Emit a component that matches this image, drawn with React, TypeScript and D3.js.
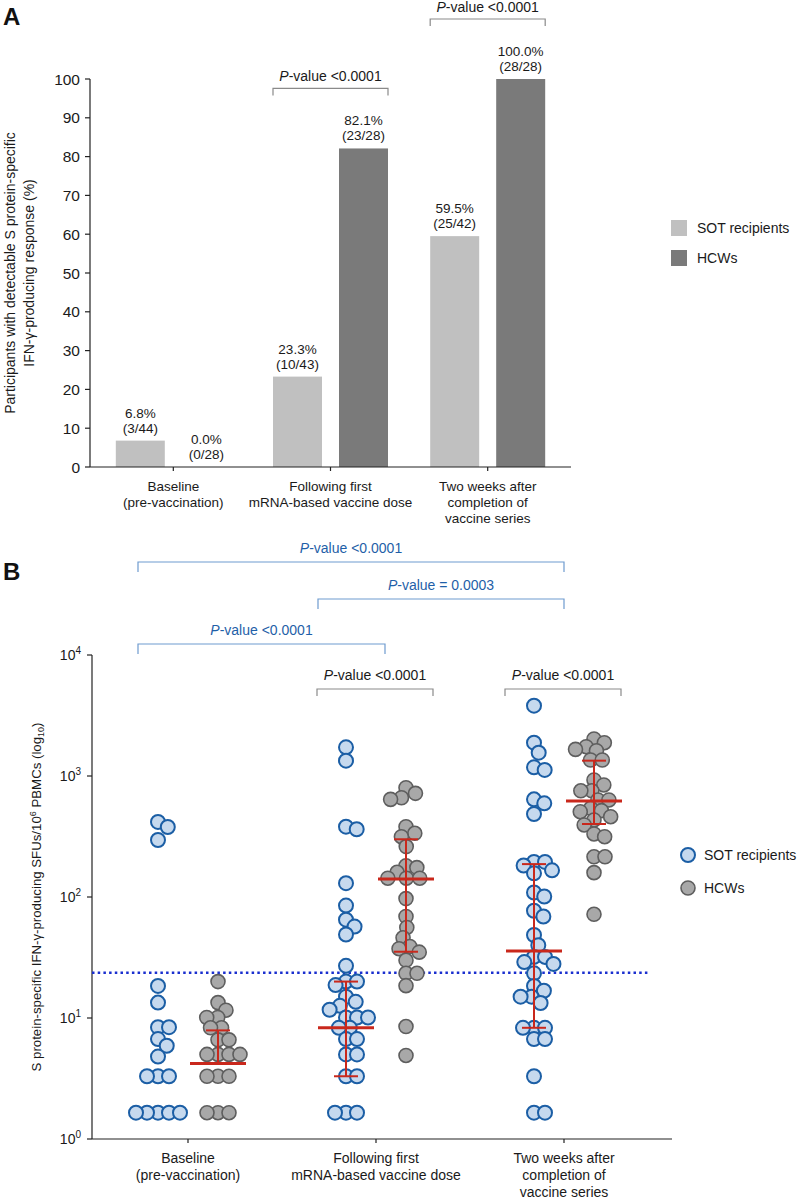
import React from "react";
import * as d3 from "d3";

// ---------- Panel A data ----------
const categories = ["Baseline", "First dose", "Completed"];
const categoryLines = [
  ["Baseline", "(pre-vaccination)"],
  ["Following first", "mRNA-based vaccine dose"],
  ["Two weeks after", "completion of", "vaccine series"],
];
const groups = ["SOT recipients", "HCWs"];
const pctSOT = [6.8, 23.3, 59.5];
const pctHCW = [0.0, 82.1, 100.0];
const fracSOT = ["(3/44)", "(10/43)", "(25/42)"];
const fracHCW = ["(0/28)", "(23/28)", "(28/28)"];
const yTicksA = [0, 10, 20, 30, 40, 50, 60, 70, 80, 90, 100];
const pLabelsA = ["", "<0.0001", "<0.0001"];

// ---------- Panel B data ----------
const sotBaseline = [417, 379, 296, 18.4, 13.4, 8.4, 8.4, 6.7, 5.9, 4.8, 3.3, 3.3, 3.3, 1.65, 1.65, 1.65, 1.65, 1.65];
const hcwBaseline = [20, 13.4, 11.6, 10.1, 10.1, 8.3, 8.3, 6.6, 6.6, 5, 5, 5, 5, 3.3, 3.3, 3.3, 1.65, 1.65, 1.65];
const sotDose1 = [1727, 1339, 381, 363, 130, 85, 65, 57, 49, 27, 20, 20, 18.7, 15, 13.6, 12.6, 11.7, 10.1, 10.1, 10.1, 8.3, 8.3, 6.7, 6.7, 5, 5, 3.3, 3.3, 1.65, 1.65, 1.65];
const hcwDose1 = [800, 719, 661, 641, 381, 336, 315, 261, 181, 175, 160, 143, 143, 143, 97, 69, 56, 46, 39, 37.4, 35, 30, 23.4, 23.4, 18.5, 8.5, 4.9];
const sotComplete = [3810, 1884, 1559, 1180, 1122, 641, 595, 485, 195, 195, 182, 166, 157, 109, 101, 77, 69, 48.5, 40, 32, 32, 29, 28, 23.4, 18.4, 16.8, 15, 15, 13.3, 8.3, 8.3, 8.3, 6.7, 6.7, 3.3, 1.65, 1.65];
const hcwComplete = [2023, 1884, 1746, 1660, 1619, 1356, 1356, 927, 843, 755, 755, 634, 634, 541, 517, 507, 461, 433, 394, 332, 315, 215, 215, 159, 72];
const medianSOT = [null, 8.3, 35.8];
const q1SOT = [null, 3.3, 8.3];
const q3SOT = [null, 20, 187];
const medianHCW = [4.2, 141, 621];
const q1HCW = [4.2, 35.3, 401];
const q3HCW = [7.9, 300, 1339];
const threshold = 23.7;
const yTicksB = [1, 10, 100, 1000, 10000];

const FONT = "Arial, 'Liberation Sans', Helvetica, sans-serif";
const SOT_FILL = "#c6d9ee";
const SOT_STROKE = "#1b5ea5";
const HCW_FILL = "#a8a8a8";
const HCW_STROKE = "#5e5e5e";
const RED = "#c9281c";
const BLUE_TXT = "#1f5fa8";
const BLUE_LINE = "#6e9bcf";

type Pt = { v: number; x: number; y: number };
function beeswarm(values: number[], y: (v: number) => number, d: number): Pt[] {
  const pts: Pt[] = values.map((v) => ({ v, x: 0, y: y(v) })).sort((a, b) => a.y - b.y);
  const placed: Pt[] = [];
  for (const p of pts) {
    const cands = [0];
    for (const q of placed) {
      const dy = Math.abs(q.y - p.y);
      if (dy < d) {
        const dx = Math.sqrt(d * d - dy * dy);
        cands.push(q.x + dx, q.x - dx);
      }
    }
    cands.sort((a, b) => Math.abs(a) - Math.abs(b));
    for (const c of cands) {
      if (placed.every((q) => (q.x - c) ** 2 + (q.y - p.y) ** 2 >= d * d - 0.01)) {
        p.x = c;
        break;
      }
    }
    placed.push(p);
  }
  return placed;
}

function PValue({ x, y, text, color }: { x: number; y: number; text: string; color: string }) {
  return (
    <text x={x} y={y} textAnchor="middle" fontSize={14} fill={color}>
      <tspan fontStyle="italic">P</tspan>
      {"-value " + text}
    </text>
  );
}

export default function App() {
  // ---------- Panel A scales ----------
  const xA = d3.scalePoint<string>().domain(categories).range([90, 571]).padding(0.53);
  const xA1 = d3.scaleBand<string>().domain(groups).range([-57.5, 57.5]).paddingInner(17 / 66);
  const yA = d3.scaleLinear().domain([0, 100]).range([467, 79]);
  const bw = xA1.bandwidth();

  // ---------- Panel B scales ----------
  const xB = d3.scalePoint<string>().domain(categories).range([188, 564]);
  const xB1 = d3.scalePoint<string>().domain(groups).range([-30, 30]);
  const yB = d3.scaleLog().domain([1, 10000]).range([1139, 655]);

  const seriesB = [
    { cat: 0, g: 0, vals: sotBaseline },
    { cat: 0, g: 1, vals: hcwBaseline },
    { cat: 1, g: 0, vals: sotDose1 },
    { cat: 1, g: 1, vals: hcwDose1 },
    { cat: 2, g: 0, vals: sotComplete },
    { cat: 2, g: 1, vals: hcwComplete },
  ];

  const catY0 = yA(0);

  return (
    <svg
      width={800}
      height={1201}
      style={{ position: "absolute", left: 0, top: 0, background: "#fff" }}
      fontFamily={FONT}
    >
      <rect width={800} height={1201} fill="#fff" />
      {/* ================= Panel A ================= */}
      <text x={3} y={25} fontSize={24} fontWeight="bold" fill="#111">A</text>

      {/* y title */}
      <text transform={`translate(15,273) rotate(-90)`} textAnchor="middle" fontSize={14} fill="#1a1a1a">
        Participants with detectable S protein-specific
      </text>
      <text transform={`translate(34,273) rotate(-90)`} textAnchor="middle" fontSize={14} fill="#1a1a1a">
        IFN-γ-producing response (%)
      </text>

      {/* y axis */}
      <line x1={90} x2={90} y1={yA(100)} y2={yA(0)} stroke="#222" strokeWidth={1.2} />
      {yTicksA.map((t) => (
        <g key={t}>
          <line x1={85} x2={90} y1={yA(t)} y2={yA(t)} stroke="#222" strokeWidth={1.2} />
          <text x={80} y={yA(t) + 5.5} textAnchor="end" fontSize={15.5} fill="#1a1a1a">{t}</text>
        </g>
      ))}

      {/* bars */}
      {categories.map((c, i) => (
        <g key={c}>
          {groups.map((g, j) => {
            const v = j === 0 ? pctSOT[i] : pctHCW[i];
            const x = (xA(c) as number) + (xA1(g) as number);
            return (
              <g key={g}>
                <rect x={x} y={yA(v)} width={bw} height={yA(0) - yA(v)} fill={j === 0 ? "#c0c0c0" : "#7a7a7a"} />
                <text x={x + bw / 2} y={yA(v) - 23} textAnchor="middle" fontSize={13.5} fill="#1a1a1a">
                  {v.toFixed(1) + "%"}
                </text>
                <text x={x + bw / 2} y={yA(v) - 8} textAnchor="middle" fontSize={13.5} fill="#1a1a1a">
                  {j === 0 ? fracSOT[i] : fracHCW[i]}
                </text>
              </g>
            );
          })}
        </g>
      ))}

      {/* x axis */}
      <line x1={90} x2={571} y1={catY0} y2={catY0} stroke="#222" strokeWidth={1.2} />
      {categories.map((c, i) => (
        <g key={c}>
          <line x1={xA(c) as number} x2={xA(c) as number} y1={catY0} y2={catY0 + 4} stroke="#222" strokeWidth={1.2} />
          {categoryLines[i].map((l, k) => (
            <text key={k} x={xA(c) as number} y={catY0 + 24 + k * 16} textAnchor="middle" fontSize={13.5} fill="#1a1a1a">
              {l}
            </text>
          ))}
        </g>
      ))}

      {/* brackets A */}
      {categories.map((c, i) => {
        if (!pLabelsA[i]) return null;
        const x0 = (xA(c) as number) + (xA1(groups[0]) as number);
        const x1 = (xA(c) as number) + (xA1(groups[1]) as number) + bw;
        const top = yA(Math.max(pctSOT[i], pctHCW[i])) - 60;
        return (
          <g key={c}>
            <path d={`M${x0},${top + 7}V${top}H${x1}V${top + 7}`} fill="none" stroke="#8a8a8a" strokeWidth={1.2} />
            <PValue x={(x0 + x1) / 2} y={top - 7.5} text={pLabelsA[i]} color="#1a1a1a" />
          </g>
        );
      })}

      {/* legend A */}
      {groups.map((g, j) => (
        <g key={g} transform={`translate(671,${220 + j * 30})`}>
          <rect width={16} height={16} fill={j === 0 ? "#c0c0c0" : "#7a7a7a"} />
          <text x={26} y={13} fontSize={14} fill="#1a1a1a">{g}</text>
        </g>
      ))}

      {/* ================= Panel B ================= */}
      <text x={3} y={580} fontSize={24} fontWeight="bold" fill="#111">B</text>

      {/* y title */}
      <text
        transform={`translate(41,${(yB(1) + yB(10000)) / 2}) rotate(-90)`}
        textAnchor="middle"
        fontSize={12.5}
        fill="#1a1a1a"
        textLength={349}
        lengthAdjust="spacingAndGlyphs"
      >
        S protein-specific IFN-γ-producing SFUs/10
        <tspan dy={-5} fontSize={8.5}>6</tspan>
        <tspan dy={5}> PBMCs (log</tspan>
        <tspan dy={3} fontSize={8.5}>10</tspan>
        <tspan dy={-3}>)</tspan>
      </text>

      {/* y axis */}
      <line x1={92} x2={92} y1={yB(10000)} y2={yB(1)} stroke="#222" strokeWidth={1.2} />
      {yTicksB.map((t) => (
        <g key={t}>
          <line x1={87} x2={92} y1={yB(t)} y2={yB(t)} stroke="#222" strokeWidth={1.2} />
          <text x={81} y={yB(t) + 5} textAnchor="end" fontSize={14} fill="#1a1a1a">
            10<tspan dy={-6} fontSize={10}>{Math.round(Math.log10(t))}</tspan>
          </text>
        </g>
      ))}

      {/* threshold */}
      <line x1={92} x2={648} y1={yB(threshold)} y2={yB(threshold)} stroke="#1a2fcf" strokeWidth={2.5} strokeDasharray="2.5 3.2" />

      {/* points */}
      {seriesB.map((s, idx) => {
        const cx = (xB(categories[s.cat]) as number) + (xB1(groups[s.g]) as number);
        const pts = beeswarm(s.vals, (v) => yB(v), 11);
        return (
          <g key={idx}>
            {pts.map((p, k) => (
              <circle
                key={k}
                cx={cx + p.x}
                cy={p.y}
                r={7}
                fill={s.g === 0 ? SOT_FILL : HCW_FILL}
                stroke={s.g === 0 ? SOT_STROKE : HCW_STROKE}
                strokeWidth={s.g === 0 ? 2 : 1.6}
              />
            ))}
          </g>
        );
      })}

      {/* median + IQR */}
      {categories.map((c, i) =>
        groups.map((g, j) => {
          const med = j === 0 ? medianSOT[i] : medianHCW[i];
          const lo = j === 0 ? q1SOT[i] : q1HCW[i];
          const hi = j === 0 ? q3SOT[i] : q3HCW[i];
          if (med == null || lo == null || hi == null) return null;
          const cx = (xB(c) as number) + (xB1(g) as number);
          return (
            <g key={c + g} stroke={RED}>
              <line x1={cx} x2={cx} y1={yB(hi)} y2={yB(lo)} strokeWidth={2} />
              <line x1={cx - 12} x2={cx + 12} y1={yB(hi)} y2={yB(hi)} strokeWidth={2} />
              {lo !== med && <line x1={cx - 12} x2={cx + 12} y1={yB(lo)} y2={yB(lo)} strokeWidth={2} />}
              <line x1={cx - 28} x2={cx + 28} y1={yB(med)} y2={yB(med)} strokeWidth={3} />
            </g>
          );
        })
      )}

      {/* x axis */}
      <line x1={92} x2={672} y1={yB(1)} y2={yB(1)} stroke="#222" strokeWidth={1.2} />
      {categories.map((c, i) => (
        <g key={c}>
          <line x1={xB(c) as number} x2={xB(c) as number} y1={yB(1)} y2={yB(1) + 4} stroke="#222" strokeWidth={1.2} />
          {categoryLines[i].map((l, k) => (
            <text key={k} x={xB(c) as number} y={yB(1) + 24 + k * 17} textAnchor="middle" fontSize={14} fill="#1a1a1a">
              {l}
            </text>
          ))}
        </g>
      ))}

      {/* group brackets B */}
      {[1, 2].map((i) => {
        const cx = xB(categories[i]) as number;
        const x0 = cx - 59;
        const x1 = cx + 57;
        const top = yB(10000) + 34;
        return (
          <g key={i}>
            <path d={`M${x0},${top + 7}V${top}H${x1}V${top + 7}`} fill="none" stroke="#8a8a8a" strokeWidth={1.2} />
            <PValue x={(x0 + x1) / 2} y={top - 9} text="<0.0001" color="#1a1a1a" />
          </g>
        );
      })}

      {/* comparison brackets B (SOT across time) */}
      {[
        { a: 0, b: 2, t: "<0.0001", lvl: 0 },
        { a: 1, b: 2, t: "= 0.0003", lvl: 1 },
        { a: 0, b: 1, t: "<0.0001", lvl: 2 },
      ].map((br, k) => {
        const x0 = (xB(categories[br.a]) as number) - (br.a === 0 ? 50 : 58);
        const x1 = (xB(categories[br.b]) as number) + (br.b === 2 ? 0 : 9);
        const top = yB(10000) - 93 + [0, 37, 82][br.lvl];
        return (
          <g key={k}>
            <path d={`M${x0},${top + 10}V${top}H${x1}V${top + 10}`} fill="none" stroke={BLUE_LINE} strokeWidth={1.2} />
            <PValue x={(x0 + x1) / 2} y={top - 9} text={br.t} color={BLUE_TXT} />
          </g>
        );
      })}

      {/* legend B */}
      {groups.map((g, j) => (
        <g key={g} transform={`translate(688,${855 + j * 33})`}>
          <circle r={7} fill={j === 0 ? SOT_FILL : HCW_FILL} stroke={j === 0 ? SOT_STROKE : HCW_STROKE} strokeWidth={j === 0 ? 2 : 1.6} />
          <text x={16} y={5} fontSize={14} fill="#1a1a1a">{g}</text>
        </g>
      ))}
    </svg>
  );
}
